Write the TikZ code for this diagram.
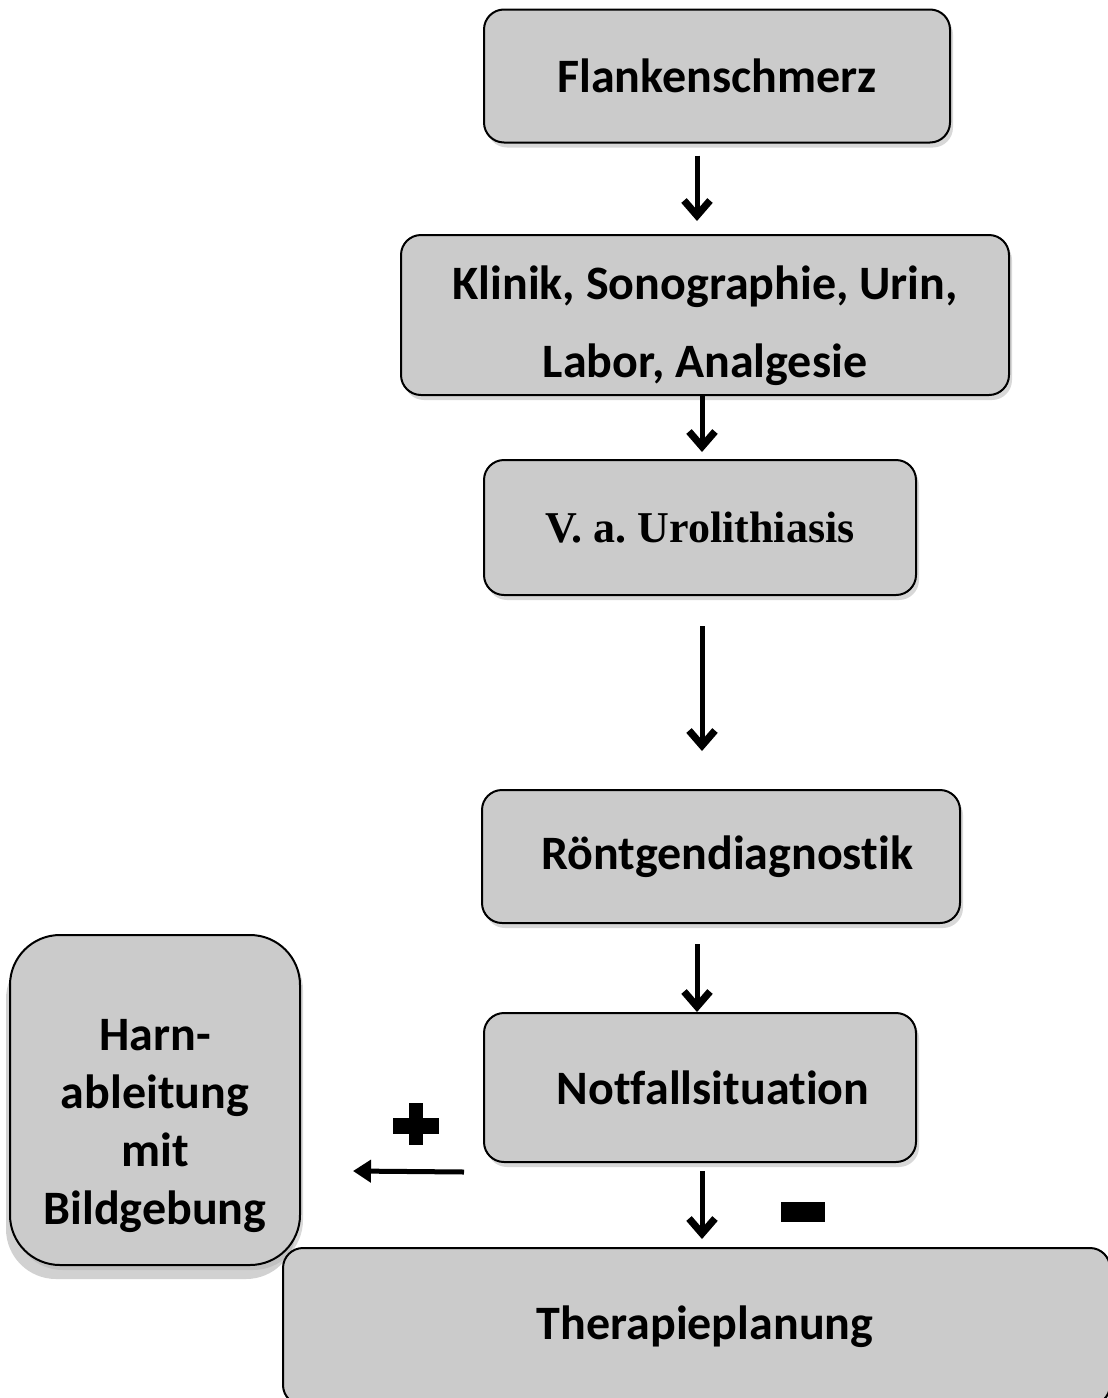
\documentclass[tikz,border=0pt]{standalone}
\usepackage{fontspec}
\setmainfont{Carlito}[Ligatures={NoCommon}]
\newfontfamily\serifbold{Liberation Serif}
\usepackage{xcolor}
\usetikzlibrary{positioning,arrows.meta,shadows}
\definecolor{boxgray}{HTML}{CBCBCB}
\frenchspacing
% multi-line box text, lowered a little
\newcommand{\lowered}[2]{\raisebox{-#1}[\height][\depth]{\begin{tabular}{@{}c@{}}#2\end{tabular}}}

\begin{document}
\begin{tikzpicture}[
  x=0.5pt, y=-0.5pt,
  stepbox/.style={rectangle, draw, line width=1pt, rounded corners=10pt, fill=boxgray, align=center, inner sep=0pt,
    font=\fontsize{24}{39}\selectfont\bfseries,
    drop shadow={shadow xshift=1.5pt, shadow yshift=-2.5pt, fill=black!30, opacity=0.5}},
  arrow/.style={-{Straight Barb[length=7.5pt,width=13pt,line width=3.6pt]}, line width=2.5pt},
  bigarrow/.style={-{Triangle[length=9pt,width=11pt]}, line width=2.5pt}
  ]
  \useasboundingbox (0,0) rectangle (1108,1398);
  % main chain
  \node[stepbox, minimum width=233pt, minimum height=66.5pt] (flank) at (717,76) {Flankenschmerz};
  \node[stepbox, minimum width=304pt, minimum height=80pt] (klinik) at (705,315) {\lowered{4pt}{Klinik, Sonographie, Urin,\\Labor, Analgesie}};
  \node[stepbox, minimum width=216pt, minimum height=67.5pt, font=\fontsize{22}{30}\selectfont\serifbold\bfseries] (vau) at (700,527.5) {V. a. Urolithiasis};
  \node[stepbox, minimum width=239pt, minimum height=66.5pt] (roentgen) at (721,856.5) {\hspace*{6pt}R\"ontgendiagnostik};
  \node[stepbox, minimum width=216pt, minimum height=74.5pt] (notfall) at (700,1087.5) {\hspace*{13pt}Notfallsituation};
  \node[stepbox, rounded corners=25pt, minimum width=145pt, minimum height=165pt, font=\fontsize{24}{29}\selectfont\bfseries,
    drop shadow={shadow xshift=-2pt, shadow yshift=-7pt, fill=black!30, opacity=0.6}] (harn) at (155,1100) {\lowered{13pt}{Harn-\\ableitung\\mit\\Bildgebung}};
  \node[stepbox, minimum width=413.5pt, minimum height=78.5pt] (thera) at (696.5,1326.5) {\hspace*{8.5pt}Therapieplanung};
  % arrows
  \draw[arrow, shorten <=6pt, shorten >=6.5pt] (flank.south -| 697,0) -- (klinik.north -| 697,0);
  \draw[arrow, shorten >=3.5pt] (klinik.south -| 702,0) -- (vau.north -| 702,0);
  \draw[arrow, shorten <=15pt, shorten >=19pt] (vau.south -| 702,0) -- (roentgen.north -| 702,0);
  \draw[arrow, shorten <=10pt] (roentgen.south -| 697,0) -- (notfall.north -| 697,0);
  \draw[arrow, shorten <=4pt, shorten >=4pt] (notfall.south -| 702,0) -- (thera.north -| 702,0);
  \draw[bigarrow] ([shift={(-19,9)}]notfall.south west) -- ([shift={(52,71)}]harn.east);
  % plus / minus
  \fill (393,1118) rectangle (439,1134);
  \fill (409,1103) rectangle (423,1145);
  \fill (781,1202) rectangle (825,1222);
\end{tikzpicture}
\end{document}
